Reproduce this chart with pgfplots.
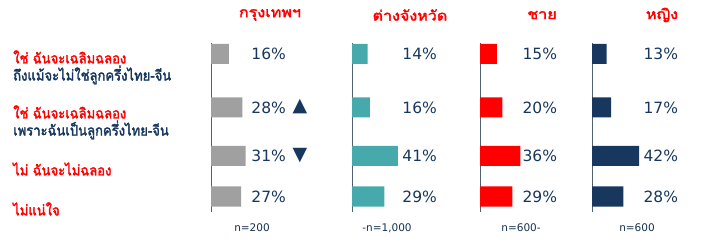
\documentclass[border=0pt]{standalone}
\usepackage{fontspec}
\usepackage{pgfplots}
\pgfplotsset{compat=1.18}
\usepackage{pgfplotstable}
\setmainfont{DejaVu Sans}
\newfontfamily\thai[Script=Thai, FakeBold=2.2, FakeStretch=0.9]{Loma}
\newfontfamily\thaihead[Script=Thai, FakeBold=2.5, FakeStretch=1.15]{Loma}

\definecolor{bkkgray}{HTML}{A0A0A0}
\definecolor{provteal}{HTML}{46AAAC}
\definecolor{malered}{HTML}{FF0000}
\definecolor{femnavy}{HTML}{17375E}
\definecolor{txtnavy}{HTML}{17375E}
\definecolor{axisslate}{HTML}{4F6270}

% y = row position (pt from bottom of picture), v = share in percent
\pgfplotstableread{
y     v
192   16
138.5 28
90    31
49.5  27
}\bkk
\pgfplotstableread{
y     v
192   14
138.5 16
90    41
49.5  29
}\prov
\pgfplotstableread{
y     v
192   15
138.5 20
90    36
49.5  29
}\male
\pgfplotstableread{
y     v
192   13
138.5 17
90    42
49.5  28
}\female

\pgfplotsset{
  panel/.style={
    scale only axis, width=112pt, height=169pt,
    xmin=0, xmax=100, ymin=34, ymax=203,
    anchor=south west, clip=false,
    hide x axis, axis y line=left,
    y axis line style={-, axisslate, line width=0.9pt},
    ytick=\empty,
    /pgf/number format/assume math mode=true,
  },
  pct/.style={draw=none, mark=none, nodes near coords,
    point meta=explicit,
    nodes near coords={\pgfmathprintnumber{\pgfplotspointmeta}\%},
    every node near coord/.style={anchor=east, inner sep=0pt,
      font=\fontsize{15.5}{16}\selectfont, text=txtnavy}},
}

\begin{document}
\begin{tikzpicture}[x=1pt,y=1pt]
\path (0,0) rectangle (703,246);

\begin{axis}[panel, at={(211pt,34pt)}]
  \addplot[xbar, bar width=20pt, fill=bkkgray, draw=none] table[x=v, y=y]{\bkk};
  \addplot[pct] table[x expr=67, y=y, meta=v]{\bkk};
  \node[text=femnavy, font=\fontsize{19}{19}\selectfont, inner sep=0pt] at (axis cs:79.5,139.5) {▲};
  \node[text=femnavy, font=\fontsize{19}{19}\selectfont, inner sep=0pt] at (axis cs:79.5,90.5) {▼};
\end{axis}

\begin{axis}[panel, at={(352pt,34pt)}]
  \addplot[xbar, bar width=20pt, fill=provteal, draw=none] table[x=v, y=y]{\prov};
  \addplot[pct] table[x expr=76, y=y, meta=v]{\prov};
\end{axis}

\begin{axis}[panel, at={(480pt,34pt)}]
  \addplot[xbar, bar width=20pt, fill=malered, draw=none] table[x=v, y=y]{\male};
  \addplot[pct] table[x expr=69, y=y, meta=v]{\male};
\end{axis}

\begin{axis}[panel, at={(592pt,34pt)}]
  \addplot[xbar, bar width=20pt, fill=femnavy, draw=none] table[x=v, y=y]{\female};
  \addplot[pct] table[x expr=77, y=y, meta=v]{\female};
\end{axis}

% column headings
\begin{scope}[every node/.style={text=malered, font=\thaihead\fontsize{14}{15}\selectfont, inner sep=0pt}]
  \node at (270,231) {กรุงเทพฯ};
  \node at (410,231) {ต่างจังหวัด};
  \node at (542,231) {ชาย};
  \node at (662,231) {หญิง};
\end{scope}

% row labels
\begin{scope}[every node/.style={anchor=west, inner sep=0pt, font=\thai\fontsize{14.5}{15}\selectfont}]
  \node[text=malered] at (13,189) {ใช่ ฉันจะเฉลิมฉลอง};
  \node[text=txtnavy] at (13,171) {ถึงแม้จะไม่ใช่ลูกครึ่งไทย-จีน};
  \node[text=malered] at (13,134) {ใช่ ฉันจะเฉลิมฉลอง};
  \node[text=txtnavy] at (13,116) {เพราะฉันเป็นลูกครึ่งไทย-จีน};
  \node[text=malered] at (13,77) {ไม่ ฉันจะไม่ฉลอง};
  \node[text=malered] at (13,37) {ไม่แน่ใจ};
\end{scope}

% sample sizes
\begin{scope}[every node/.style={text=txtnavy!85!black, font=\fontsize{10.5}{11}\selectfont, inner sep=0pt}]
  \node at (252,18) {n=200};
  \node at (387,18) {-n=1,000};
  \node at (521,18) {n=600-};
  \node at (637,18) {n=600};
\end{scope}
\end{tikzpicture}
\end{document}
